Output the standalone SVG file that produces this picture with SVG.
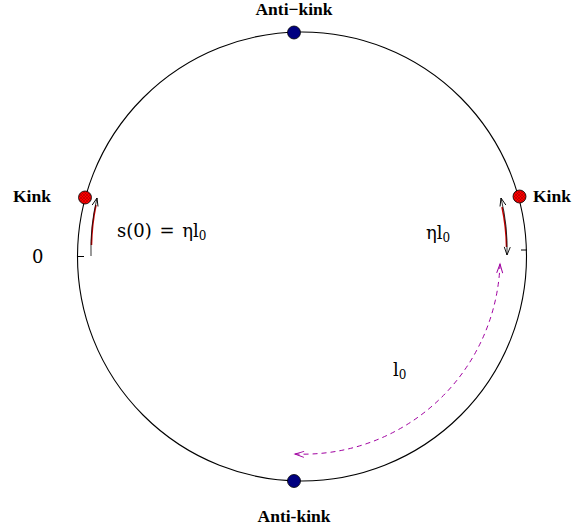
<svg xmlns="http://www.w3.org/2000/svg" width="584" height="532" viewBox="0 0 584 532">
<style>
.lbl{font-family:"Liberation Serif","DejaVu Serif",serif;font-weight:bold;font-size:17.5px;fill:#000}
.math{font-family:"DejaVu Serif","Liberation Serif",serif;font-size:18px;fill:#000}
.blue{fill:#000080;stroke:#000;stroke-width:0.8}
.red{fill:url(#hatch);stroke:#000;stroke-width:0.8}
</style>
<defs>
<pattern id="hatch" width="3" height="3" patternUnits="userSpaceOnUse">
<rect width="3" height="3" fill="#ff0000"/>
<path d="M0,0 L3,3 M3,0 L0,3" stroke="#990000" stroke-width="0.5"/>
</pattern>
<marker id="ak" markerWidth="10" markerHeight="10" refX="9" refY="5" orient="auto-start-reverse" markerUnits="userSpaceOnUse">
<path d="M1,2 L9,5 L1,8" fill="none" stroke="#000" stroke-width="0.9"/>
</marker>
<marker id="am" markerWidth="12" markerHeight="10" refX="10" refY="5" orient="auto-start-reverse" markerUnits="userSpaceOnUse">
<path d="M1,2 L10,5 L1,8" fill="none" stroke="#a000a0" stroke-width="1"/>
</marker>
</defs>
<g id="connectors">
<circle cx="302" cy="256.5" r="224.5" fill="none" stroke="#000" stroke-width="1.1"/>
<line x1="77" y1="256.5" x2="84" y2="256.5" stroke="#000" stroke-width="1"/>
<line x1="521" y1="250" x2="527" y2="250" stroke="#000" stroke-width="1"/>
<path d="M91.5,245 A212,212 0 0,1 96,205" fill="none" stroke="#cc0000" stroke-width="1.5"/>
<path d="M91,256 A212,212 0 0,1 97,198" fill="none" stroke="#000" stroke-width="0.8" marker-end="url(#ak)"/>
<path d="M502,207 A206,206 0 0,1 506.5,247" fill="none" stroke="#cc0000" stroke-width="1.5"/>
<path d="M501,198 A206,206 0 0,1 507,255" fill="none" stroke="#000" stroke-width="0.8" marker-start="url(#ak)" marker-end="url(#ak)"/>
<path d="M500,264 A197,197 0 0,1 295,454" fill="none" stroke="#a000a0" stroke-width="1" stroke-dasharray="5,4" marker-start="url(#am)" marker-end="url(#am)"/>
</g>
<g id="antikink-top">
<circle class="blue" cx="294" cy="32.5" r="6.5"/>
<text class="lbl" x="294" y="15" text-anchor="middle">Anti−kink</text>
</g>
<g id="antikink-bottom">
<circle class="blue" cx="294" cy="481" r="6.5"/>
<text class="lbl" x="294" y="522" text-anchor="middle">Anti-kink</text>
</g>
<g id="kink-left">
<circle class="red" cx="85" cy="197.5" r="6.5"/>
<text class="lbl" x="13" y="202">Kink</text>
</g>
<g id="kink-right">
<circle class="red" cx="519.5" cy="196.5" r="6.5"/>
<text class="lbl" x="533" y="202">Kink</text>
</g>
<g id="labels">
<text class="math" x="32" y="263">0</text>
<text class="math" x="117" y="237" word-spacing="2">s(0) = ηl<tspan font-size="12" dy="3">0</tspan></text>
<text class="math" x="426" y="239">ηl<tspan font-size="12" dy="3">0</tspan></text>
<text class="math" x="393" y="376">l<tspan font-size="12" dy="3">0</tspan></text>
</g>
</svg>
